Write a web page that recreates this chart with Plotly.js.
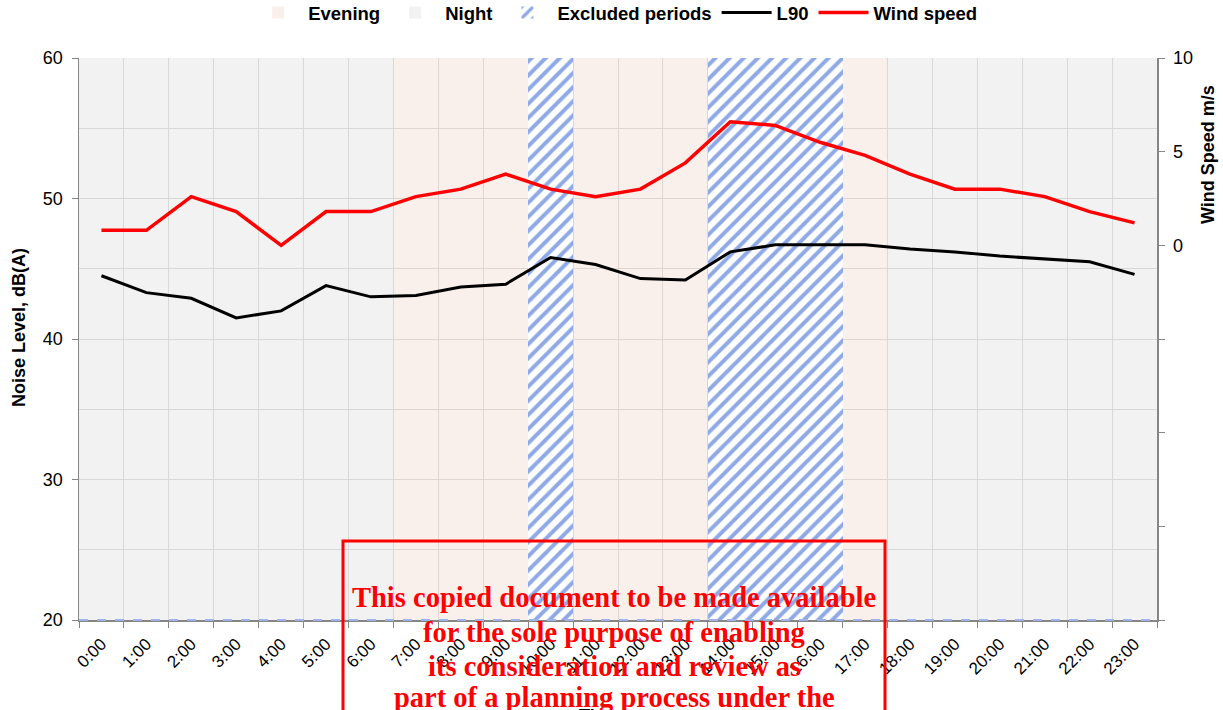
<!DOCTYPE html>
<html>
<head>
<meta charset="utf-8">
<script src="https://cdn.plot.ly/plotly-3.0.1.min.js"></script>
<style>html,body{margin:0;padding:0;background:#fff;}#chart{width:1223px;height:710px;}</style>
</head>
<body>
<div id="chart"></div>
<script>
const hours = ['0:00','1:00','2:00','3:00','4:00','5:00','6:00','7:00','8:00','9:00','10:00','11:00',
               '12:00','13:00','14:00','15:00','16:00','17:00','18:00','19:00','20:00','21:00','22:00','23:00'];
const evening  = [0,0,0,0,0,0,0,60,60,60,60,60,60,60,60,60,60,60,0,0,0,0,0,0];
const night    = [60,60,60,60,60,60,60,0,0,0,0,0,0,0,0,0,0,0,60,60,60,60,60,60];
const excluded = [0,0,0,0,0,0,0,0,0,0,60,0,0,0,60,60,60,0,0,0,0,0,0,0];
const l90 = [44.5,43.3,42.9,41.5,42.0,43.8,43.0,43.1,43.7,43.9,45.8,45.3,
             44.3,44.2,46.2,46.7,46.7,46.7,46.4,46.2,45.9,45.7,45.5,44.6];
const windSpeed = [0.8,0.8,2.6,1.8,0.0,1.8,1.8,2.6,3.0,3.8,3.0,2.6,
                   3.0,4.4,6.6,6.4,5.5,4.8,3.8,3.0,3.0,2.6,1.8,1.2];
const rightTickVals = [-20,-15,-10,-5,0,5,10];
const rightTickText = ['','','','','0','5','10'];
const watermark = ['This copied document to be made available',
                   'for the sole purpose of enabling',
                   'its consideration and review as',
                   'part of a planning process under the'];

const W = 1223, H = 710, L = 79, R = 66, T = 58, B = 90;
const pw = W - L - R, ph = H - T - B;
const px = v => (v - L) / pw;
const py = v => (H - B - v) / ph;

const sans = 'Liberation Sans, Arial, sans-serif';
const axisGray = '#868686';
const gridGray = '#E2E2E2';

const traces = [
  {type:'bar', name:'Evening', x:hours, y:evening, marker:{color:'rgba(213,130,90,0.12)', line:{width:0}}, hoverinfo:'skip'},
  {type:'bar', name:'Night', x:hours, y:night, marker:{color:'rgba(128,128,128,0.1)', line:{width:0}}, hoverinfo:'skip'},
  {type:'bar', name:'Excluded periods', x:hours, y:excluded,
   marker:{color:'#ffffff', line:{width:0}, pattern:{shape:'/', fgcolor:'#8FA9E6', bgcolor:'#ffffff', size:10, solidity:0.4}}, hoverinfo:'skip'},
  {type:'scatter', mode:'lines', name:'L90', x:hours, y:l90, line:{color:'#000000', width:3}},
  {type:'scatter', mode:'lines', name:'Wind speed', x:hours, y:windSpeed, yaxis:'y2', line:{color:'#FF0000', width:3.5}}
];

const annotations = [
  {text:'<b>Noise Level, dB(A)</b>', xref:'paper', yref:'paper', x:px(19), y:py(328), xanchor:'center', yanchor:'middle',
   textangle:-90, showarrow:false, font:{family:sans, size:18, color:'#000'}},
  {text:'<b>Wind Speed m/s</b>', xref:'paper', yref:'paper', x:px(1208), y:py(155), xanchor:'center', yanchor:'middle',
   textangle:-90, showarrow:false, font:{family:sans, size:18, color:'#000'}},
  {text:'<b>Time</b>', xref:'paper', yref:'paper', x:px(600), y:py(704), xanchor:'center', yanchor:'top',
   showarrow:false, font:{family:sans, size:18, color:'#000'}}
];
const wmY = [597, 632, 666, 698];
watermark.forEach((t, i) => annotations.push({
  text:'<b>' + t + '</b>', xref:'paper', yref:'paper', x:px(614), y:py(wmY[i]), xanchor:'center', yanchor:'middle',
  showarrow:false, font:{family:'Liberation Serif, Times New Roman, serif', size:28.5, color:'#FF0000'}
}));

const layout = {
  width:W, height:H,
  margin:{l:L, r:R, t:T, b:B},
  paper_bgcolor:'#ffffff', plot_bgcolor:'#ffffff',
  barmode:'overlay', bargap:0,
  showlegend:true,
  legend:{orientation:'h', x:0.503, xanchor:'center', xref:'container', y:1 - 13/H, yanchor:'middle', yref:'container',
          font:{family:sans, size:18.5, color:'#000', weight:'bold'}, itemwidth:50, tracegroupgap:0},
  font:{family:sans, size:18, color:'#000'},
  xaxis:{type:'category', range:[-0.5,23.5], tickson:'boundaries', ticks:'outside', ticklen:6, tickcolor:axisGray,
         tickangle:-45, ticklabelstandoff:6, showgrid:true, gridcolor:gridGray, showline:true, linecolor:axisGray, linewidth:1.5,
         tickfont:{family:sans, size:17, color:'#000'}, zeroline:false, automargin:false},
  yaxis:{range:[20,60], dtick:10, ticks:'outside', ticklen:6, tickcolor:axisGray, showline:true, linecolor:axisGray,
         linewidth:1.5, showgrid:true, gridcolor:gridGray, zeroline:false, automargin:false, ticklabelstandoff:5,
         minor:{dtick:5, showgrid:true, gridcolor:gridGray, ticks:''},
         tickfont:{family:sans, size:18, color:'#000'}},
  yaxis2:{overlaying:'y', side:'right', range:[-20,10], tickvals:rightTickVals, ticktext:rightTickText,
          ticks:'outside', ticklen:6, tickcolor:axisGray, showline:true, linecolor:axisGray, linewidth:1.5, ticklabelstandoff:5,
          showgrid:false, zeroline:false, automargin:false, tickfont:{family:sans, size:18, color:'#000'}},
  annotations:annotations,
  shapes:[
    {type:'line', xref:'paper', yref:'paper', x0:0, x1:1, y0:0, y1:0, layer:'above',
     line:{color:'#9DB3EA', width:2, dash:'dash'}},
    {type:'rect', xref:'paper', yref:'paper', x0:px(343), x1:px(885), y0:py(730), y1:py(541), layer:'above',
     line:{color:'#FF0000', width:3}, fillcolor:'rgba(0,0,0,0)'}
  ]
};

Plotly.newPlot('chart', traces, layout, {displayModeBar:false, staticPlot:true});
</script>
</body>
</html>
